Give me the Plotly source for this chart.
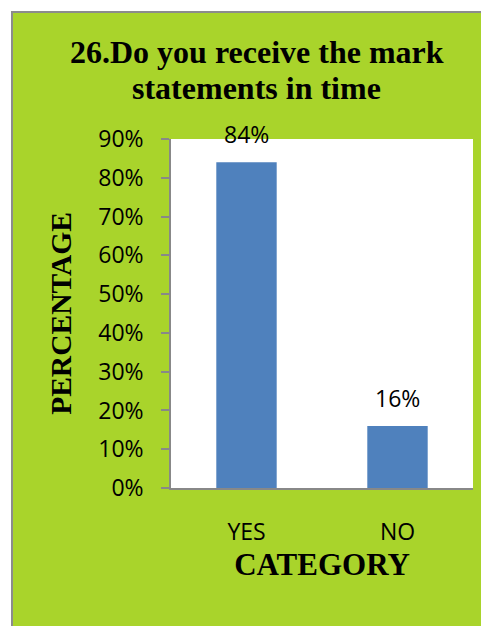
import plotly.graph_objects as go

categories = ["YES", "NO"]
values = [0.84, 0.16]
labels = ["84%", "16%"]
y_ticks = [0, 0.1, 0.2, 0.3, 0.4, 0.5, 0.6, 0.7, 0.8, 0.9]
title_lines = ["26.Do you receive the mark", "statements in time"]

W, H = 497, 626
L, R, T, B = 163, 32, 131, 146
pw, ph = W - L - R, H - T - B

def xp(px):
    return (px - L) / pw

def yp(py):
    return (H - B - py) / ph

GREEN = "#A9D42B"
BAR = "#4F81BD"
AX = "#888888"
SANS = "Open Sans"
SERIF = "Liberation Serif"

fig = go.Figure(go.Bar(
    x=categories, y=values, marker=dict(color=BAR, line=dict(width=0)),
    width=0.4, hoverinfo="skip",
))

for c, v, t in zip(categories, values, labels):
    fig.add_annotation(x=c, y=v, text=t, showarrow=False, yanchor="middle",
                       yshift=28, font=dict(family=SANS, size=23, color="#000000"))

for line, cy in zip(title_lines, [44, 79.6]):
    fig.add_annotation(xref="paper", yref="paper", x=xp(248.5), y=yp(cy),
                       text=line, showarrow=False, xanchor="center", yanchor="middle",
                       font=dict(family=SERIF, size=32, color="#000000", weight="bold"))

shapes = [
    dict(type="rect", xref="paper", yref="paper", x0=-1, x1=2, y0=yp(3), y1=3,
         fillcolor="white", line=dict(width=0), layer="below"),
    dict(type="rect", xref="paper", yref="paper", x0=-1, x1=xp(3), y0=-2, y1=3,
         fillcolor="white", line=dict(width=0), layer="below"),
    dict(type="line", xref="paper", yref="paper", x0=xp(4), x1=xp(4), y0=yp(3), y1=-2,
         line=dict(color="#8C8C8C", width=2), layer="below"),
    dict(type="line", xref="paper", yref="paper", x0=xp(3), x1=2, y0=yp(4), y1=yp(4),
         line=dict(color="#8C8C8C", width=2), layer="below"),
]

fig.update_layout(
    width=W, height=H,
    margin=dict(l=L, r=R, t=T, b=B, pad=0),
    paper_bgcolor=GREEN, plot_bgcolor="white",
    showlegend=False,
    shapes=shapes,
    xaxis=dict(
        showline=True, linecolor=AX, linewidth=1.5, ticks="", showgrid=False,
        tickfont=dict(family=SANS, size=23, color="#000000"),
        ticklabelstandoff=23,
        title=dict(text="CATEGORY", standoff=0,
                   font=dict(family=SERIF, size=31, color="#000000", weight="bold")),
    ),
    yaxis=dict(
        range=[0, 0.9], tickvals=y_ticks, tickformat=".0%",
        showline=True, linecolor=AX, linewidth=1.5, ticks="outside", ticklen=8,
        tickcolor=AX, tickwidth=1.5, showgrid=False, zeroline=False,
        tickfont=dict(family=SANS, size=23, color="#000000"),
        ticklabelstandoff=13,
        title=dict(text="PERCENTAGE", standoff=18,
                   font=dict(family=SERIF, size=29.5, color="#000000", weight="bold")),
    ),
)

fig.write_html("out.html")
